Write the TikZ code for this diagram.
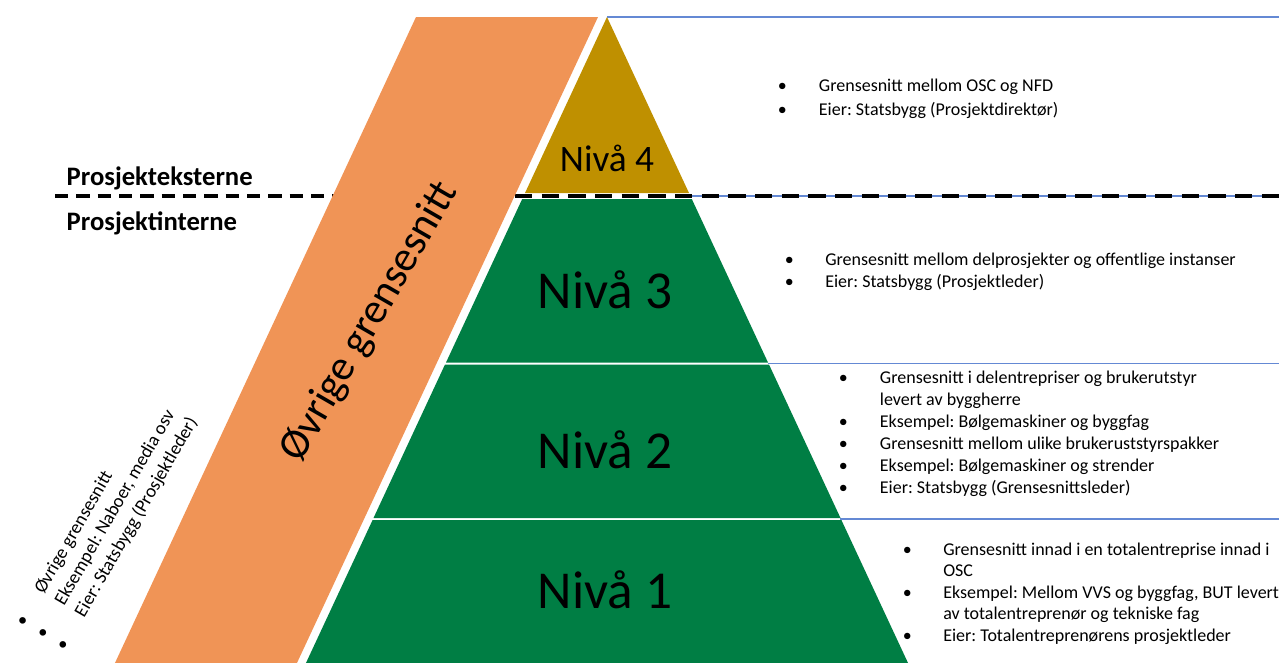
\documentclass[tikz,border=0pt]{standalone}
\usepackage{fontspec}
\setmainfont{Carlito}
\definecolor{oransje}{RGB}{240,148,86}
\definecolor{gull}{RGB}{191,144,0}
\definecolor{groenn}{RGB}{0,126,68}
\definecolor{blaa}{RGB}{100,137,212}

\tikzset{
  skille/.style={draw=blaa,line width=1.3pt},
  stiplet/.style={draw=black,line width=3pt},
  liste/.style={anchor=base west,inner sep=0pt},
}

\begin{document}
\frenchspacing
\begin{tikzpicture}[x=0.75pt,y=-0.75pt]
\useasboundingbox (0,0) rectangle (1279,662);
\clip (0,0) rectangle (1279,662);

% blue lines to the right of the pyramid
\draw[skille] (607,17) -- (1279,17);
\draw[skille] (692,196) -- (1279,196);
\draw[skille] (768,363.5) -- (1279,363.5);
\draw[skille] (840,519) -- (1279,519);

% dashed border ekstern/intern
\draw[stiplet,dash pattern=on 10pt off 6pt] (55,196) -- (420,196);
\draw[stiplet,dash pattern=on 13pt off 7pt] (515,196) -- (1279,196);

% orange band
\fill[oransje] (416,17) -- (598,17) -- (293.7,670) -- (111.7,670) -- cycle;

% pyramid levels
\fill[gull] (607,17) -- (689,193) -- (525,193) -- cycle;
\fill[groenn] (522.2,199) -- (691.8,199) -- (768,362.5) -- (446,362.5) -- cycle;
\fill[groenn] (445,364.5) -- (769,364.5) -- (840.5,518) -- (373.5,518) -- cycle;
\fill[groenn] (372.6,520) -- (841.4,520) -- (911.3,670) -- (302.7,670) -- cycle;

\node[font=\fontsize{28}{30}\selectfont] (n4) at (607,158) {Nivå 4};
\node[font=\fontsize{40}{44}\selectfont] (n3) at (605,290) {Nivå 3};
\node[font=\fontsize{40}{44}\selectfont] (n2) at (605,450) {Nivå 2};
\node[font=\fontsize{40}{44}\selectfont] (n1) at (605,590) {Nivå 1};

\node[rotate=60,font=\fontsize{32}{36}\selectfont] (ovrige) at (370,322) {Øvrige grensesnitt};

\node[anchor=base west,font=\bfseries\fontsize{20}{22}\selectfont] (ekst) at (62,185) {Prosjekteksterne};
\node[anchor=base west,font=\bfseries\fontsize{20}{22}\selectfont] (int) at (62,230) {Prosjektinterne};

% bullet lists
\node[liste,rotate=60,font=\fontsize{14}{17.5}\selectfont] (lv) at (27,624) {%
\begin{tabular}[t]{@{}l@{\hspace{25pt}}l@{}}
\makebox[0pt]{\textbullet} & Øvrige grensesnitt\\
\makebox[0pt]{\textbullet} & Eksempel: Naboer, media osv\\
\makebox[0pt]{\textbullet} & Eier: Statsbygg (Prosjektleder)
\end{tabular}};

\node[liste,font=\fontsize{13.5}{18}\selectfont] (l4) at (782,91.5) {%
\begin{tabular}[t]{@{}l@{\hspace{27.5pt}}l@{}}
\makebox[0pt]{\textbullet} & Grensesnitt mellom OSC og NFD\\
\makebox[0pt]{\textbullet} & Eier: Statsbygg (Prosjektdirektør)
\end{tabular}};

\node[liste,font=\fontsize{13.5}{16.5}\selectfont] (l3) at (789,265.5) {%
\begin{tabular}[t]{@{}l@{\hspace{27pt}}l@{}}
\makebox[0pt]{\textbullet} & Grensesnitt mellom delprosjekter og offentlige instanser\\
\makebox[0pt]{\textbullet} & Eier: Statsbygg (Prosjektleder)
\end{tabular}};

\node[liste,font=\fontsize{13.5}{16.5}\selectfont] (l2) at (843,383.5) {%
\begin{tabular}[t]{@{}l@{\hspace{27.5pt}}l@{}}
\makebox[0pt]{\textbullet} & Grensesnitt i delentrepriser og brukerutstyr\\
 & levert av byggherre\\
\makebox[0pt]{\textbullet} & Eksempel: Bølgemaskiner og byggfag\\
\makebox[0pt]{\textbullet} & Grensesnitt mellom ulike brukeruststyrspakker\\
\makebox[0pt]{\textbullet} & Eksempel: Bølgemaskiner og strender\\
\makebox[0pt]{\textbullet} & Eier: Statsbygg (Grensesnittsleder)
\end{tabular}};

\node[liste,font=\fontsize{13.5}{16.1}\selectfont] (l1) at (907,555.5) {%
\begin{tabular}[t]{@{}l@{\hspace{27pt}}l@{}}
\makebox[0pt]{\textbullet} & Grensesnitt innad i en totalentreprise innad i\\
 & OSC\\
\makebox[0pt]{\textbullet} & Eksempel: Mellom VVS og byggfag, BUT levert\\
 & av totalentreprenør og tekniske fag\\
\makebox[0pt]{\textbullet} & Eier: Totalentreprenørens prosjektleder
\end{tabular}};
\end{tikzpicture}
\end{document}
